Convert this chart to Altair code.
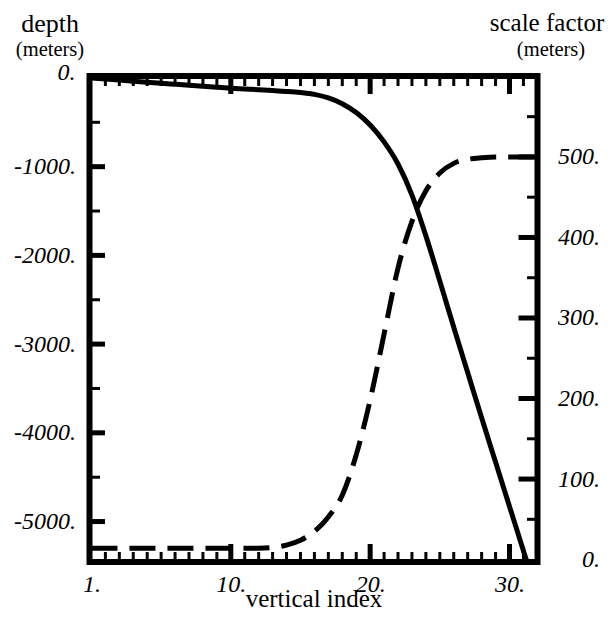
import altair as alt
import pandas as pd

# ---- data ----
vertical_index = [0, 1, 2, 3, 4, 5, 6, 7, 8, 9, 10, 11, 12, 13, 14, 15, 16,
                  17, 18, 19, 20, 21, 22, 23, 24, 25, 26, 27, 28, 29, 30, 31, 32]
depth = [0, -12, -24, -36, -48, -60, -71, -82, -93, -104, -115, -124, -133,
         -142, -152, -165, -185, -225, -290, -390, -530, -720, -970, -1320,
         -1780, -2290, -2810, -3320, -3830, -4330, -4830, -5330, -5830]
scale_factor = [14, 14, 14, 14, 14, 14, 14, 14, 14, 14, 14, 14, 14, 15, 18,
                24, 35, 53, 80, 130, 198, 280, 362, 420, 458, 480, 492, 497,
                499, 500, 500, 500, 500]

x_tick_values = [0, 10, 20, 30]
x_tick_labels = ["1.", "10.", "20.", "30."]
x_major = [10, 20, 30]
x_minor = [1, 2, 3, 4, 5, 6, 7, 8, 9, 11, 12, 13, 14, 15, 16, 17, 18, 19,
           21, 22, 23, 24, 25, 26, 27, 28, 29, 31]
left_values = [-1000, -2000, -3000, -4000, -5000]
left_top_value = [0]
left_top_label = ["0."]
left_major = [-1000, -2000, -3000, -4000, -5000]
left_minor = [-500, -1500, -2500, -3500, -4500]
right_values = [0, 100, 200, 300, 400, 500]
right_major = [100, 200, 300, 400, 500]
right_minor = [50, 150, 250, 350, 450, 550]
titles = ["depth", "(meters)", "scale factor", "(meters)", "vertical index"]

# ---- layout ----
W, H = 448, 486
FONT = "Liberation Serif"

df = pd.DataFrame({"k": vertical_index, "depth": depth, "sf": scale_factor})

xs = alt.Scale(domain=[-0.14, 32.01], nice=False, zero=False)
ys_d = alt.Scale(domain=[-5456, 22], nice=False, zero=False)
ys_s = alt.Scale(domain=[-3, 600.5], nice=False, zero=False)

x_expr = "".join(
    f"datum.value == {v} ? '{l}' : " for v, l in zip(x_tick_values, x_tick_labels)
) + "''"

label_common = dict(
    ticks=False, tickSize=0, domain=False, grid=False,
    labelFont=FONT, labelFontStyle="italic", labelFontSize=24,
    labelColor="black", labelFlush=False, labelOverlap=False,
)

x_axis = alt.Axis(
    values=x_tick_values, labelExpr=x_expr,
    labelPadding=10, title=titles[4], titleFont=FONT, titleFontSize=25,
    titleFontWeight="normal", titleColor="black",
    titleBaseline="alphabetic", titleY=44, **label_common,
)
left_axis = alt.Axis(orient="left", values=left_values,
                     labelExpr="datum.value + '.'", labelPadding=14,
                     labelAlign="right", **label_common)
right_axis = alt.Axis(orient="right", values=right_values,
                      labelExpr="datum.value + '.'", labelPadding=62,
                      labelAlign="right", **label_common)

X = alt.X("k:Q", scale=xs, axis=x_axis, title=titles[4])

solid = alt.Chart(df).mark_line(
    color="black", strokeWidth=5, clip=True, interpolate="monotone"
).encode(
    x=X,
    y=alt.Y("depth:Q", scale=ys_d, axis=left_axis, title=None),
)

dashed = alt.Chart(df).mark_line(
    color="black", strokeWidth=5, clip=True, interpolate="monotone",
    strokeDash=[26, 12]
).encode(
    x=X,
    y=alt.Y("sf:Q", scale=ys_s, axis=right_axis, title=None),
)

zero_label = alt.Chart(
    pd.DataFrame({"v": left_top_value, "t": left_top_label})
).mark_text(
    font=FONT, fontSize=24, fontStyle="italic", color="black",
    align="right", baseline="middle", dy=-5
).encode(
    y=alt.Y("v:Q", scale=ys_d, axis=None),
    x=alt.value(-14),
    text="t:N",
)


def xticks(vals, y0, y1, sw):
    return alt.Chart(pd.DataFrame({"k": vals})).mark_rule(
        color="black", strokeWidth=sw
    ).encode(
        x=X,
        y=alt.value(y0), y2=alt.value(y1),
    )


def yticks(vals, scale, x0, x1, sw):
    return alt.Chart(pd.DataFrame({"v": vals})).mark_rule(
        color="black", strokeWidth=sw
    ).encode(
        y=alt.Y("v:Q", scale=scale, axis=None),
        x=alt.value(x0), x2=alt.value(x1),
    )


def label(text, x, y, size):
    return alt.Chart(pd.DataFrame({"t": [text]})).mark_text(
        font=FONT, fontSize=size, color="black", align="center",
        baseline="alphabetic"
    ).encode(text="t:N", x=alt.value(x), y=alt.value(y))


layers = [
    solid, dashed, zero_label,
    xticks(x_minor, H, H - 10, 3),
    xticks(x_major, H, H - 18, 5),
    xticks(x_minor, 0, 10, 3),
    xticks(x_major, 0, 18, 5),
    yticks(left_major, ys_d, 0, 15.5, 5),
    yticks(left_minor, ys_d, 0, 10.5, 3),
    yticks(right_major, ys_s, W, W - 19, 5),
    yticks(right_minor, ys_s, W, W - 10.5, 3),
    label(titles[0], -39.5, -44.5, 26),
    label(titles[1], -39.5, -20, 20.5),
    label(titles[2], 457.5, -45, 25),
    label(titles[3], 461.5, -20, 20.5),
]

chart = alt.layer(*layers).resolve_scale(y="independent").properties(
    width=W, height=H,
    padding={"left": 81.5, "top": 68, "right": 67.5, "bottom": 50},
    autosize=alt.AutoSizeParams(type="none"),
    background="white",
).configure_view(stroke="black", strokeWidth=6)

chart.save("out.html", embed_options={"renderer": "svg", "actions": False})
